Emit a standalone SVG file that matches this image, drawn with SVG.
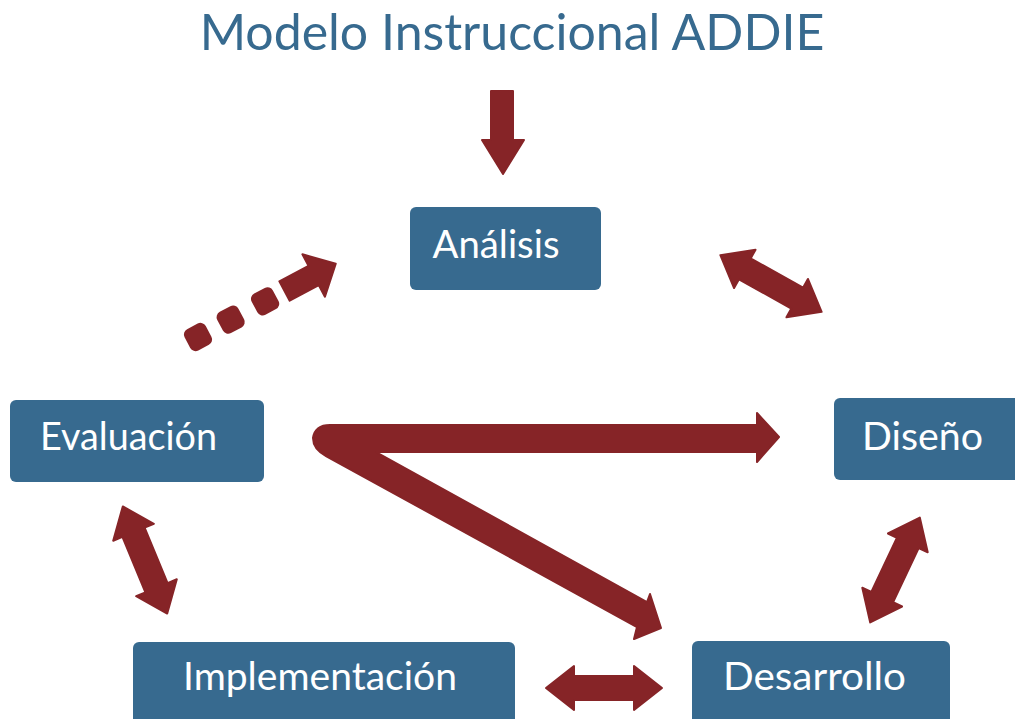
<svg xmlns="http://www.w3.org/2000/svg" xmlns:xlink="http://www.w3.org/1999/xlink" width="1015" height="719" viewBox="0 0 1015 719">
<style>
.box{fill:#376a8f}
.lbl{fill:#ffffff;font-family:Lato,"Open Sans","DejaVu Sans",sans-serif;font-size:39px;text-anchor:middle}
.title{fill:#376a8f;font-family:Lato,"Open Sans","DejaVu Sans",sans-serif;font-size:50px;text-anchor:middle}
.arr{fill:#862427;stroke:#862427;stroke-width:2;stroke-linejoin:round}
</style>
<defs>
<path id="dbl" d="M -58,0 L -30,-22 L -30,-12 L 30,-12 L 30,-22 L 58,0 L 30,22 L 30,12 L -30,12 L -30,22 Z"/>
</defs>
<rect width="1015" height="719" fill="#ffffff"/>
<text class="title" x="512" y="50">Modelo Instruccional ADDIE</text>
<g id="analisis"><rect class="box" x="410" y="207" width="191" height="83" rx="6"/><text class="lbl" x="496" y="258" textLength="127" lengthAdjust="spacingAndGlyphs">Análisis</text></g>
<g id="evaluacion"><rect class="box" x="10" y="400" width="254" height="82" rx="6"/><text class="lbl" x="128.5" y="450" textLength="177" lengthAdjust="spacingAndGlyphs">Evaluación</text></g>
<g id="diseno"><rect class="box" x="834" y="398" width="190" height="82" rx="6"/><text class="lbl" x="922.5" y="450" textLength="121" lengthAdjust="spacingAndGlyphs">Diseño</text></g>
<g id="implementacion"><rect class="box" x="133" y="642" width="382" height="90" rx="6"/><text class="lbl" x="320" y="690" textLength="274" lengthAdjust="spacingAndGlyphs">Implementación</text></g>
<g id="desarrollo"><rect class="box" x="692" y="641" width="258" height="90" rx="6"/><text class="lbl" x="814.5" y="690" textLength="183" lengthAdjust="spacingAndGlyphs">Desarrollo</text></g>
<g id="connectors">
<path class="arr" d="M 491,91 L 513,91 L 513,140 L 524,140 L 503,174 L 482,140 L 491,140 Z"/>
<path class="arr" d="M 330,425 L 757,425 L 757,413 L 779,437 L 757,462 L 757,452 L 376,452 L 647,602 L 650,594 L 661,628 L 634,639 L 637,627 L 326,456 Q 313,449 313,438 Q 315,425 330,425 Z"/>
<g transform="translate(198,337) rotate(-28)">
<rect class="arr" x="-11" y="-11" width="22" height="22" rx="5"/>
<rect class="arr" x="26" y="-11" width="22" height="22" rx="5"/>
<rect class="arr" x="65" y="-11" width="22" height="22" rx="5"/>
<path class="arr" d="M 98,-11 L 131,-11 L 131,-24 L 156,0 L 131,24 L 131,11 L 98,11 Z"/>
</g>
<use xlink:href="#dbl" class="arr" transform="translate(771,283.5) rotate(29.2)"/>
<use xlink:href="#dbl" class="arr" transform="translate(145,560) rotate(67.5)"/>
<use xlink:href="#dbl" class="arr" transform="translate(604,688)"/>
<use xlink:href="#dbl" class="arr" transform="translate(895,570) rotate(115.3)"/>
</g>
</svg>
